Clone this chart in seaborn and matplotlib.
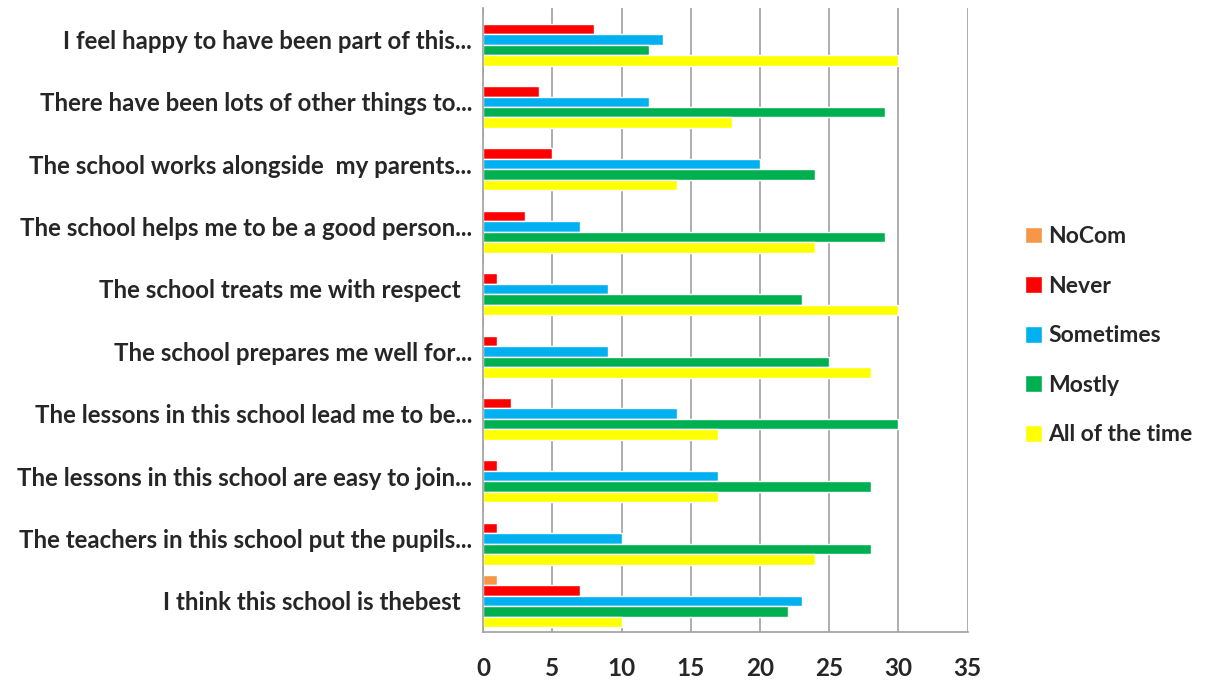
import pandas as pd
import matplotlib.pyplot as plt
import seaborn as sns

# survey questions (top to bottom)
questions = [
    "I feel happy to have been part of this...",
    "There have been lots of other things to...",
    "The school works alongside  my parents...",
    "The school helps me to be a good person...",
    "The school treats me with respect  ",
    "The school prepares me well for...",
    "The lessons in this school lead me to be...",
    "The lessons in this school are easy to join...",
    "The teachers in this school put the pupils...",
    "I think this school is thebest  ",
]
answers = ["NoCom", "Never", "Sometimes", "Mostly", "All of the time"]

nocom = [0, 0, 0, 0, 0, 0, 0, 0, 0, 1]
never = [8, 4, 5, 3, 1, 1, 2, 1, 1, 7]
sometimes = [13, 12, 20, 7, 9, 9, 14, 17, 10, 23]
mostly = [12, 29, 24, 29, 23, 25, 30, 28, 28, 22]
all_time = [30, 18, 14, 24, 30, 28, 17, 17, 24, 10]

colors = ["#F79646", "#FF0000", "#00B0F0", "#00B050", "#FFFF00"]

# --- long format for seaborn ---
rows = []
for ans, vals in zip(answers, [nocom, never, sometimes, mostly, all_time]):
    for q, v in zip(questions, vals):
        rows.append({"Question": q, "Answer": ans, "Count": v})
df = pd.DataFrame(rows)

sns.set_style("white")
plt.rcParams['font.family'] = ['Lato', 'DejaVu Sans']
plt.rcParams['font.weight'] = 'bold'

fig = plt.figure(figsize=(12.11, 6.84), dpi=100)
ax = fig.add_axes([0.399, 0.076, 0.400, 0.912])

sns.barplot(data=df, y="Question", x="Count", hue="Answer",
            order=questions, hue_order=answers, palette=colors,
            orient="h", width=0.84, saturation=1, ax=ax)

ax.set_xlim(0, 35)
ax.set_xticks(range(0, 36, 5))
ax.set_xlabel("")
ax.set_ylabel("")
ax.grid(axis='x', color='#A0A0A0', linewidth=1.2)
ax.set_axisbelow(True)
for s in ['top', 'right']:
    ax.spines[s].set_visible(False)
for s in ['left', 'bottom']:
    ax.spines[s].set_color('#A0A0A0')
    ax.spines[s].set_linewidth(1.2)
ax.tick_params(axis='x', length=0, pad=18, labelsize=17.5)
ax.tick_params(axis='y', length=0, pad=8, labelsize=17.3)
for lbl in ax.get_xticklabels() + ax.get_yticklabels():
    lbl.set_fontweight('bold')

leg = ax.legend(loc='center left', bbox_to_anchor=(1.075, 0.475), frameon=False,
                fontsize=16.5, labelspacing=1.25, handlelength=0.75,
                handleheight=0.75, handletextpad=0.3)
for t in leg.get_texts():
    t.set_fontweight('bold')

plt.savefig("out.png", dpi=100)
